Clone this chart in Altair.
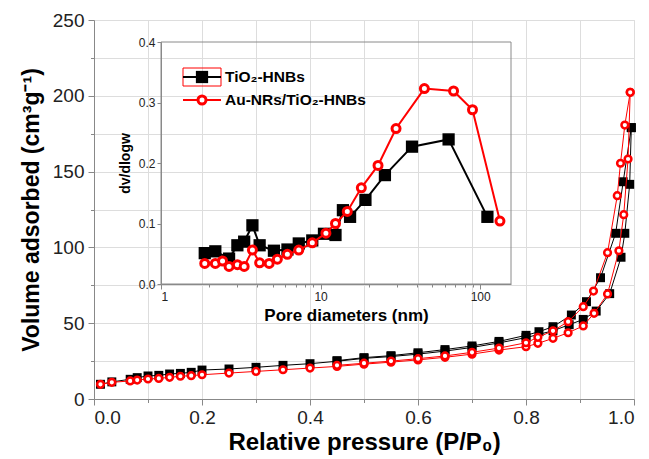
import altair as alt
import pandas as pd

# ---------------- main isotherm data ----------------
# TiO2-HNBs adsorption branch
ti_ads_p = [0.012, 0.033, 0.067, 0.08, 0.10, 0.12, 0.14, 0.16, 0.18, 0.20, 0.25, 0.30, 0.35, 0.40, 0.45,
            0.50, 0.55, 0.60, 0.65, 0.70, 0.75, 0.80, 0.85, 0.88, 0.906, 0.93, 0.955, 0.976, 0.983, 0.992, 0.995]
ti_ads_v = [9.7, 11.3, 13.0, 14.1, 15.2, 15.6, 16.5, 16.9, 17.6, 19.1, 19.8, 20.9, 22.2, 23.3, 24.9,
            26.8, 28.0, 29.6, 31.6, 34.0, 37.0, 40.5, 45.0, 49.0, 52.5, 58.0, 69.5, 93.5, 109.3, 141.6, 179.0]
# TiO2-HNBs desorption branch
ti_des_p = [0.995, 0.980, 0.966, 0.938, 0.912, 0.884, 0.85, 0.824, 0.80, 0.75, 0.70, 0.65, 0.60, 0.55, 0.50, 0.45]
ti_des_v = [179.0, 143.3, 109.3, 80.0, 64.2, 55.4, 47.7, 44.4, 42.0, 38.0, 35.0, 32.6, 30.5, 28.6, 27.3, 25.3]
# Au-NRs/TiO2-HNBs adsorption branch
au_ads_p = [0.012, 0.033, 0.067, 0.08, 0.10, 0.12, 0.14, 0.16, 0.18, 0.20, 0.25, 0.30, 0.35, 0.40, 0.45,
            0.50, 0.55, 0.60, 0.65, 0.70, 0.75, 0.80, 0.822, 0.85, 0.878, 0.906, 0.926, 0.951, 0.972, 0.981, 0.989, 0.993]
au_ads_v = [9.7, 11.0, 11.9, 12.5, 13.2, 13.6, 14.3, 15.0, 15.4, 16.0, 17.1, 18.2, 19.3, 20.4, 21.5,
            23.0, 24.3, 25.8, 27.5, 29.6, 32.3, 34.5, 36.7, 40.0, 43.7, 48.2, 56.5, 69.3, 97.8, 121.6, 158.3, 202.3]
# Au-NRs/TiO2-HNBs desorption branch
au_des_p = [0.993, 0.983, 0.975, 0.969, 0.951, 0.925, 0.906, 0.878, 0.85, 0.822, 0.80, 0.75, 0.70, 0.65, 0.60, 0.55, 0.50, 0.45]
au_des_v = [202.3, 180.7, 155.5, 134.1, 96.5, 71.2, 60.9, 51.0, 45.0, 40.7, 37.1, 33.6, 30.8, 28.4, 26.6, 25.0, 23.6, 22.2]

# ---------------- inset pore size distribution ----------------
ti_d = [1.88, 2.19, 2.67, 3.01, 3.32, 3.74, 4.15, 5.1, 6.2, 7.3, 8.87, 10.5, 12.4, 13.8, 15.3, 19.1, 25.3, 37.4, 63.4, 111]
ti_y = [0.051, 0.054, 0.042, 0.064, 0.07, 0.097, 0.064, 0.055, 0.057, 0.067, 0.072, 0.083, 0.081, 0.122, 0.111, 0.139, 0.180, 0.227, 0.239, 0.111]
au_d = [1.88, 2.19, 2.43, 2.67, 3.01, 3.32, 3.74, 4.15, 4.76, 5.36, 6.19, 7.3, 8.87, 10.8, 12.4, 14.7, 18.0, 22.9, 29.7, 44.7, 68.1, 89.5, 133]
au_y = [0.034, 0.034, 0.038, 0.029, 0.032, 0.029, 0.056, 0.035, 0.034, 0.041, 0.049, 0.056, 0.068, 0.084, 0.100, 0.120, 0.159, 0.196, 0.257, 0.323, 0.319, 0.288, 0.104]

series_names = ["TiO₂-HNBs", "Au-NRs/TiO₂-HNBs"]
main_x_ticks = [0.0, 0.1, 0.2, 0.3, 0.4, 0.5, 0.6, 0.7, 0.8, 0.9, 1.0]
main_y_ticks = [0, 25, 50, 75, 100, 125, 150, 175, 200, 225, 250]
inset_x_ticks = [1, 2, 3, 4, 5, 6, 7, 8, 9, 10, 20, 30, 40, 50, 60, 70, 80, 90, 100]
inset_y_ticks = [0.0, 0.1, 0.2, 0.3, 0.4]


def iso_frame(ads_p, ads_v, des_p, des_v):
    rows = []
    for k, (p, v) in enumerate(zip(ads_p, ads_v)):
        rows.append({"P": p, "V": v, "branch": "ads", "o": k})
    for k, (p, v) in enumerate(zip(des_p, des_v)):
        rows.append({"P": p, "V": v, "branch": "des", "o": k})
    return pd.DataFrame(rows)


df_ti = iso_frame(ti_ads_p, ti_ads_v, ti_des_p, ti_des_v)
df_au = iso_frame(au_ads_p, au_ads_v, au_des_p, au_des_v)
df_ti_in = pd.DataFrame({"D": ti_d, "Y": ti_y})
df_au_in = pd.DataFrame({"D": au_d, "Y": au_y})

FONT = "Liberation Sans"
W, H = 540, 379
IN_X0, IN_X1, IN_Y0, IN_Y1 = 67, 417, 22, 264

X = alt.X("P:Q", scale=alt.Scale(domain=[0, 1], nice=False),
          axis=alt.Axis(values=main_x_ticks,
                        labelExpr="round(datum.value*10) % 2 == 0 ? format(datum.value, '.1f') : ''",
                        tickSize={"condition": {"test": "round(datum.value*10) % 2 == 0", "value": 6}, "value": 3.5},
                        labelFontSize=19, labelPadding=3, labelColor="#222", labelOverlap=False,
                        title="Relative pressure (P/P₀)", titleFontSize=24, titleFontWeight="bold",
                        titlePadding=3, orient="bottom"))
Y = alt.Y("V:Q", scale=alt.Scale(domain=[0, 250], nice=False),
          axis=alt.Axis(values=main_y_ticks,
                        labelExpr="datum.value % 50 == 0 ? format(datum.value, 'd') : ''",
                        tickSize={"condition": {"test": "datum.value % 50 == 0", "value": 6}, "value": 3.5},
                        labelFontSize=19, labelPadding=4, labelColor="#222", labelOverlap=False,
                        title="Volume adsorbed (cm³g⁻¹)", titleFontSize=23, titleFontWeight="bold",
                        titlePadding=9, orient="left"))

ti_line = alt.Chart(df_ti).mark_line(color="black", strokeWidth=1).encode(x=X, y=Y, detail="branch:N", order="o:Q")
ti_pts = alt.Chart(df_ti).mark_point(shape="square", filled=True, color="black", size=80, opacity=1).encode(x=X, y=Y)
au_line = alt.Chart(df_au).mark_line(color="red", strokeWidth=1).encode(x=X, y=Y, detail="branch:N", order="o:Q")
au_pts = alt.Chart(df_au).mark_point(shape="circle", filled=True, fill="white", stroke="red",
                                     strokeWidth=2.5, size=45, opacity=1).encode(x=X, y=Y)

one = pd.DataFrame({"a": [0]})
inset_frame = alt.Chart(one).mark_rect(fillOpacity=0, stroke="#8a8a8a", strokeWidth=1).encode(
    x=alt.value(IN_X0), x2=alt.value(IN_X1), y=alt.value(IN_Y0), y2=alt.value(IN_Y1))

# legend inside inset
leg_box = alt.Chart(one).mark_rect(fillOpacity=0, stroke="red", strokeWidth=1).encode(
    x=alt.value(89), x2=alt.value(127), y=alt.value(48), y2=alt.value(66))
leg_l1 = alt.Chart(one).mark_rule(color="black", strokeWidth=2).encode(x=alt.value(89), x2=alt.value(127), y=alt.value(57))
leg_p1 = alt.Chart(one).mark_point(shape="square", filled=True, color="black", size=150, opacity=1).encode(
    x=alt.value(108), y=alt.value(57))
leg_t1 = alt.Chart(one).mark_text(text=series_names[0], align="left", baseline="middle", fontSize=15.5,
                                  fontWeight="bold", font=FONT, color="black").encode(x=alt.value(131), y=alt.value(57))
leg_l2 = alt.Chart(one).mark_rule(color="red", strokeWidth=2).encode(x=alt.value(89), x2=alt.value(127), y=alt.value(80))
leg_p2 = alt.Chart(one).mark_point(shape="circle", filled=True, fill="white", stroke="red", strokeWidth=3,
                                   size=64, opacity=1).encode(x=alt.value(108), y=alt.value(80))
leg_t2 = alt.Chart(one).mark_text(text=series_names[1], align="left", baseline="middle", fontSize=15.5,
                                  fontWeight="bold", font=FONT, color="black").encode(x=alt.value(131), y=alt.value(80))

main_group = alt.layer(ti_line, ti_pts, au_line, au_pts, inset_frame,
                       leg_box, leg_l1, leg_p1, leg_t1, leg_l2, leg_p2, leg_t2)

IX = alt.X("D:Q", scale=alt.Scale(type="log", domain=[1, 156], range=[IN_X0, IN_X1], nice=False, zero=False),
           axis=alt.Axis(values=inset_x_ticks, orient="bottom", offset=IN_Y1 - H,
                         labelExpr="indexof([1,10,100], datum.value) >= 0 ? format(datum.value, 'd') : ''",
                         tickSize={"condition": {"test": "indexof([1,10,100], datum.value) >= 0", "value": 5}, "value": 3},
                         labelFontSize=12, labelPadding=2, labelColor="#222", labelOverlap=False,
                         title="Pore diameters (nm)", titleFontSize=17, titleFontWeight="bold",
                         titlePadding=5, titleX=252))
IY = alt.Y("Y:Q", scale=alt.Scale(domain=[0, 0.4], range=[IN_Y1, IN_Y0], nice=False),
           axis=alt.Axis(values=inset_y_ticks, orient="left", offset=-IN_X0, format=".1f",
                         tickSize=4, labelFontSize=12, labelPadding=2, labelColor="#222", labelOverlap=False,
                         title="dv/dlogw", titleFontSize=14, titleFontWeight="bold", titlePadding=6))

ti_in_line = alt.Chart(df_ti_in).mark_line(color="black", strokeWidth=2).encode(x=IX, y=IY)
ti_in_pts = alt.Chart(df_ti_in).mark_point(shape="square", filled=True, color="black", size=150, opacity=1).encode(x=IX, y=IY)
au_in_line = alt.Chart(df_au_in).mark_line(color="red", strokeWidth=2).encode(x=IX, y=IY)
au_in_pts = alt.Chart(df_au_in).mark_point(shape="circle", filled=True, fill="white", stroke="red",
                                           strokeWidth=3, size=64, opacity=1).encode(x=IX, y=IY)

inset_group = alt.layer(ti_in_line, ti_in_pts, au_in_line, au_in_pts)

chart = alt.layer(main_group, inset_group).resolve_scale(x="independent", y="independent").properties(
    width=W, height=H,
    autosize=alt.AutoSizeParams(type="none"),
    padding={"left": 94, "top": 20, "right": 15, "bottom": 60},
).configure_view(stroke="#8a8a8a", strokeWidth=1).configure_axis(
    grid=False, domainColor="black", tickColor="black", domainWidth=1, tickWidth=1,
    labelFont=FONT, titleFont=FONT, titleColor="black"
).configure(background="white")

chart.save("out.html", embed_options={"renderer": "svg", "actions": False})
